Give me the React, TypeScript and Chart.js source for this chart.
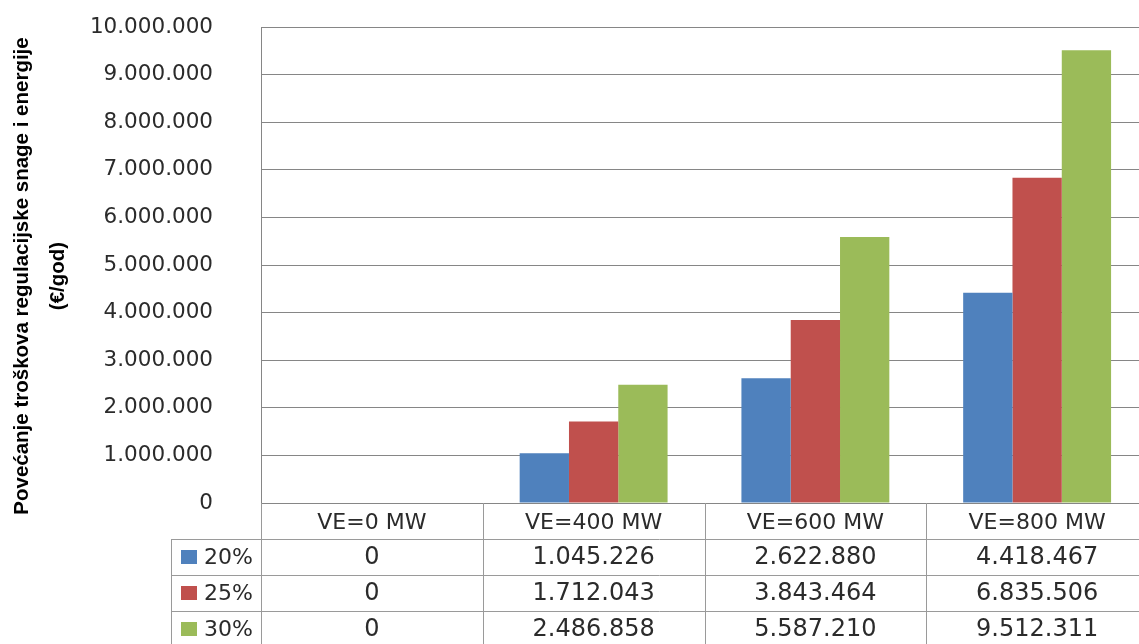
import React, { useEffect, useRef } from "react";
import { Chart, registerables } from "chart.js";

Chart.register(...registerables);

const categories = ["VE=0 MW", "VE=400 MW", "VE=600 MW", "VE=800 MW"];
const seriesNames = ["20%", "25%", "30%"];
const values20 = [0, 1045226, 2622880, 4418467];
const values25 = [0, 1712043, 3843464, 6835506];
const values30 = [0, 2486858, 5587210, 9512311];
const colors = ["#4F81BD", "#C0504D", "#9BBB59"];
const yTitleLines = ["Povećanje troškova regulacijske snage i energije", "(€/god)"];

const yMax = 10000000;
const yStep = 1000000;

function fmt(n: number): string {
  return String(Math.round(n)).replace(/\B(?=(\d{3})+(?!\d))/g, ".");
}

const TEXT = "#2b2b2b";
const TABLE_LINE = "#9a9a9a";
const ROW_H = 36;

const tablePlugin = {
  id: "dataTable",
  afterDraw(chart: any) {
    const ctx = chart.ctx;
    const x = chart.scales.x;
    const area = chart.chartArea;
    const n = categories.length;
    const cw = (x.right - x.left) / n;
    const top = area.bottom;
    const legendLeft = 171;
    const bottom = top + ROW_H * (seriesNames.length + 1) + 4;
    ctx.save();
    ctx.strokeStyle = TABLE_LINE;
    ctx.lineWidth = 1;
    for (let i = 1; i <= n; i++) {
      const px = Math.round(x.left + cw * i) + 0.5;
      ctx.beginPath();
      ctx.moveTo(px, top);
      ctx.lineTo(px, bottom);
      ctx.stroke();
    }
    const lx = Math.round(x.left) + 0.5;
    ctx.beginPath();
    ctx.moveTo(lx, top);
    ctx.lineTo(lx, bottom);
    ctx.stroke();
    ctx.beginPath();
    ctx.moveTo(legendLeft + 0.5, top + ROW_H);
    ctx.lineTo(legendLeft + 0.5, bottom);
    ctx.stroke();
    for (let r = 1; r <= seriesNames.length; r++) {
      const py = Math.round(top + ROW_H * r) + 0.5;
      ctx.beginPath();
      ctx.moveTo(legendLeft, py);
      ctx.lineTo(x.right, py);
      ctx.stroke();
    }
    const sets = chart.data.datasets;
    for (let r = 0; r < sets.length; r++) {
      const cy = top + ROW_H * (r + 1) + ROW_H / 2;
      ctx.fillStyle = colors[r];
      ctx.fillRect(181, Math.round(cy - 7), 16, 14);
      ctx.fillStyle = TEXT;
      ctx.font = "22px 'DejaVu Sans'";
      ctx.textAlign = "left";
      ctx.textBaseline = "middle";
      ctx.fillText(seriesNames[r], 204, cy + 1);
      ctx.font = "24px 'DejaVu Sans'";
      ctx.textAlign = "center";
      for (let c = 0; c < n; c++) {
        const cx = x.getPixelForValue(c);
        ctx.fillText(fmt(sets[r].data[c]), cx, cy + 1);
      }
    }
    ctx.fillStyle = "#000";
    ctx.font = "bold 20.5px 'Liberation Sans'";
    ctx.textAlign = "center";
    ctx.textBaseline = "middle";
    const ty = 276;
    const xs = [22, 58];
    yTitleLines.forEach((line, i) => {
      ctx.save();
      ctx.translate(xs[i], ty);
      ctx.rotate(-Math.PI / 2);
      ctx.fillText(line, 0, 0);
      ctx.restore();
    });
    ctx.restore();
  },
};

export default function App() {
  const ref = useRef<HTMLCanvasElement | null>(null);
  useEffect(() => {
    if (!ref.current) return;
    const chart = new Chart(ref.current, {
      type: "bar",
      data: {
        labels: categories,
        datasets: [
          { label: seriesNames[0], data: values20, backgroundColor: colors[0] },
          { label: seriesNames[1], data: values25, backgroundColor: colors[1] },
          { label: seriesNames[2], data: values30, backgroundColor: colors[2] },
        ],
      },
      options: {
        responsive: false,
        animation: false,
        devicePixelRatio: 1,
        layout: { padding: { top: 27, right: 2, left: 0, bottom: 0 } },
        plugins: { legend: { display: false }, tooltip: { enabled: false }, title: { display: false } },
        datasets: { bar: { categoryPercentage: 0.667, barPercentage: 1 } },
        scales: {
          x: {
            grid: { display: false, drawTicks: false },
            border: { display: false },
            ticks: {
              padding: 7,
              maxRotation: 0,
              autoSkip: false,
              color: TEXT,
              font: { family: "'DejaVu Sans'", size: 22 },
            },
            afterFit(scale: any) {
              scale.height = 141;
            },
          },
          y: {
            min: 0,
            max: yMax,
            ticks: {
              stepSize: yStep,
              padding: 48,
              color: TEXT,
              font: { family: "'DejaVu Sans'", size: 21.5 },
              callback: (v: any) => fmt(Number(v)),
            },
            grid: { color: "#868686", lineWidth: 1, drawTicks: false },
            border: { display: true, color: "#868686" },
            afterFit(scale: any) {
              scale.width = 261;
              scale.paddingTop = 12;
              scale.paddingBottom = 12;
            },
          },
        },
      },
      plugins: [tablePlugin],
    } as any);
    return () => chart.destroy();
  }, []);
  return (
    <div style={{ position: "fixed", left: 0, top: 0, width: 1139, height: 644, overflow: "hidden", background: "#fff" }}>
      <canvas ref={ref} width={1150} height={644} style={{ width: 1150, height: 644, display: "block" }} />
    </div>
  );
}
